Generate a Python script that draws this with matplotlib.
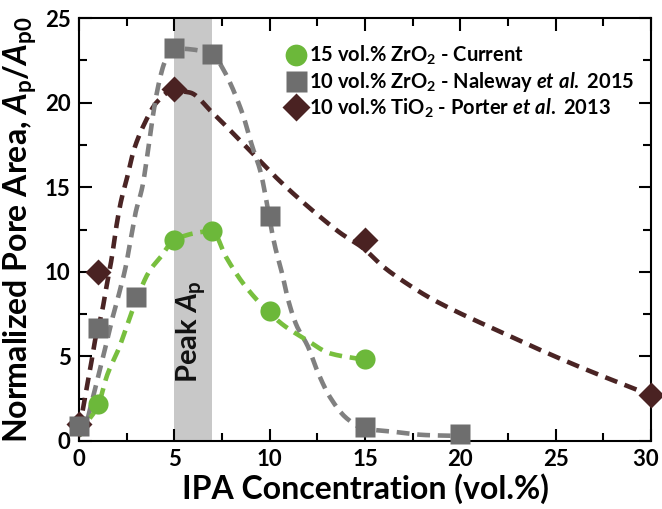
import numpy as np
import matplotlib.pyplot as plt
from matplotlib.ticker import MultipleLocator

plt.rcParams['font.family'] = ['Lato', 'DejaVu Sans']
plt.rcParams['font.weight'] = 'bold'
plt.rcParams['mathtext.fontset'] = 'custom'
plt.rcParams['mathtext.rm'] = 'Lato:bold'
plt.rcParams['mathtext.bf'] = 'Lato:bold'
plt.rcParams['mathtext.it'] = 'Lato:italic:bold'

zr15_x = [1, 5, 7, 10, 15]
zr15_y = [2.2, 11.9, 12.4, 7.7, 4.85]
zr10_x = [0, 1, 3, 5, 7, 10, 15, 20]
zr10_y = [0.9, 6.7, 8.5, 23.2, 22.9, 13.3, 0.85, 0.4]
ti10_x = [0, 1, 5, 15, 30]
ti10_y = [1.0, 10.0, 20.8, 11.9, 2.7]

# dashed trend curves (they do not pass through every marker)
zr15_fit_x = [0, 0.26, 1.0, 1.48, 2.1, 2.62, 3.0, 3.67, 4.3, 5, 7, 7.7, 8.62, 9.93, 10.71,
              11.94, 13.16, 15]
zr15_fit_y = [0.3, 0.85, 2.1, 3.9, 5.5, 7.15, 8.3, 10.0, 10.9, 11.9, 12.4, 10.9, 9.3, 7.64,
              6.86, 5.97, 5.18, 4.8]
zr10_fit_x = [0, 0.26, 0.69, 1.05, 1.4, 1.74, 2.1, 2.45, 2.71, 2.97, 3.32, 3.6, 3.93, 4.2,
              4.5, 5, 7, 7.5, 8.56, 9.09, 9.5, 10.28, 10.63, 10.98, 11.4, 12.0, 12.55, 13.16,
              14.04, 14.9, 16.47, 18.2, 20]
zr10_fit_y = [0.3, 0.65, 2.4, 4.0, 5.6, 7.2, 8.7, 10.3, 11.9, 13.5, 15.0, 17.0, 19.6, 21.2,
              22.4, 23.2, 22.9, 22.1, 19.4, 17.4, 16.0, 11.5, 10.0, 8.3, 6.86, 5.6, 4.0, 2.6,
              1.34, 0.75, 0.55, 0.35, 0.3]
ti10_fit_x = [0, 0.09, 0.35, 0.61, 0.87, 1.2, 1.47, 1.73, 1.92, 2.19, 2.53, 2.88, 3.41, 4.1,
              4.9, 5.8, 7.0, 8.76, 10.5, 11.76, 12.7, 13.7, 14.9, 15.96, 17.2, 18.5, 22, 26, 30]
ti10_fit_y = [0.6, 1.14, 2.8, 4.4, 6.1, 7.6, 9.3, 10.9, 12.4, 14.1, 15.6, 17.2, 18.7, 20.05,
              20.7, 20.6, 19.4, 17.4, 15.4, 14.1, 13.2, 12.3, 11.4, 10.3, 9.3, 8.4, 6.5, 4.5,
              2.7]
peak_band = (5, 7)

xticks = [0, 5, 10, 15, 20, 25, 30]
# trailing spaces keep the last label inside the figure edge
xtick_labels = ['0', '5', '10', '15', '20', '25', '30  ']

labels = ['15 vol.% ZrO$_2$ - Current',
          '10 vol.% ZrO$_2$ - Naleway $\\mathit{et\\ al.}$ 2015',
          '10 vol.% TiO$_2$ - Porter $\\mathit{et\\ al.}$ 2013']


def smooth(x, y, n=12):
    # monotone cubic (pchip style) through the traced points
    x = np.asarray(x, float)
    y = np.asarray(y, float)
    h = np.diff(x)
    d = np.diff(y) / h
    m = np.zeros(len(x))
    for i in range(1, len(x) - 1):
        if d[i - 1] * d[i] > 0:
            w1 = 2 * h[i] + h[i - 1]
            w2 = h[i] + 2 * h[i - 1]
            m[i] = (w1 + w2) / (w1 / d[i - 1] + w2 / d[i])
    m[0] = d[0]
    m[-1] = d[-1]
    xs, ys = [], []
    t = np.linspace(0, 1, n)
    h00 = 2 * t ** 3 - 3 * t ** 2 + 1
    h10 = t ** 3 - 2 * t ** 2 + t
    h01 = -2 * t ** 3 + 3 * t ** 2
    h11 = t ** 3 - t ** 2
    for i in range(len(x) - 1):
        xs.append(x[i] + t * h[i])
        ys.append(h00 * y[i] + h10 * h[i] * m[i] + h01 * y[i + 1] + h11 * h[i] * m[i + 1])
    return np.concatenate(xs), np.concatenate(ys)


fig = plt.figure(figsize=(6.62, 5.09), dpi=100)
ax = fig.add_axes([0.1193, 0.1336, 0.8641, 0.831])

ax.axvspan(peak_band[0], peak_band[1], color='#c8c8c8', lw=0, zorder=0)
ax.text(5.9, 6.45, 'Peak $A_\\mathrm{p}$', rotation=90, ha='center', va='center',
        fontsize=21, fontweight='bold', color='#111111')

series = [
    (ti10_fit_x, ti10_fit_y, ti10_x, ti10_y, '#4a2424', '#4a2222', 'D', 13.5),
    (zr10_fit_x, zr10_fit_y, zr10_x, zr10_y, '#808080', '#6e6e6e', 's', 14),
    (zr15_fit_x, zr15_fit_y, zr15_x, zr15_y, '#78bf3e', '#6cb83a', 'o', 14.5),
]
handles = [None, None, None]
for k, (fx, fy, x, y, lc, mc, m, ms) in enumerate(series):
    sx, sy = smooth(fx, fy)
    ax.plot(sx, sy, color=lc, lw=3.3, dashes=(2.8, 1.7), zorder=2 + k, clip_on=False)
    h, = ax.plot(x, y, ls='none', marker=m, ms=ms, color=mc, mec='none', zorder=5 + k,
                 clip_on=False)
    handles[2 - k] = h

leg = ax.legend(handles, labels, loc='upper left', bbox_to_anchor=(0.345, 0.962),
                frameon=False, prop={'size': 14.5, 'weight': 'bold'}, handletextpad=0.12,
                labelspacing=0.12, handlelength=1.0, borderpad=0, markerscale=1.08)

ax.set_xlim(0, 30)
ax.set_ylim(0, 25)
ax.set_xticks(xticks, xtick_labels)
ax.xaxis.set_minor_locator(MultipleLocator(2.5))
ax.yaxis.set_major_locator(MultipleLocator(5))
ax.yaxis.set_minor_locator(MultipleLocator(2.5))
ax.tick_params(which='both', direction='in', top=True, right=True, width=1.5,
               labelsize=16, pad=6)
ax.tick_params(which='major', length=9)
ax.tick_params(which='minor', length=6)
for lab in ax.get_xticklabels() + ax.get_yticklabels():
    lab.set_fontweight('bold')
for s in ax.spines.values():
    s.set_linewidth(1.5)

ax.set_xlabel('IPA Concentration (vol.%)', fontsize=23, fontweight='bold', labelpad=2)
ax.set_ylabel('Normalized Pore Area, $A_\\mathrm{p}$/$A_\\mathrm{p0}$', fontsize=23,
              fontweight='bold', labelpad=4)

fig.savefig('out.png', dpi=100)
